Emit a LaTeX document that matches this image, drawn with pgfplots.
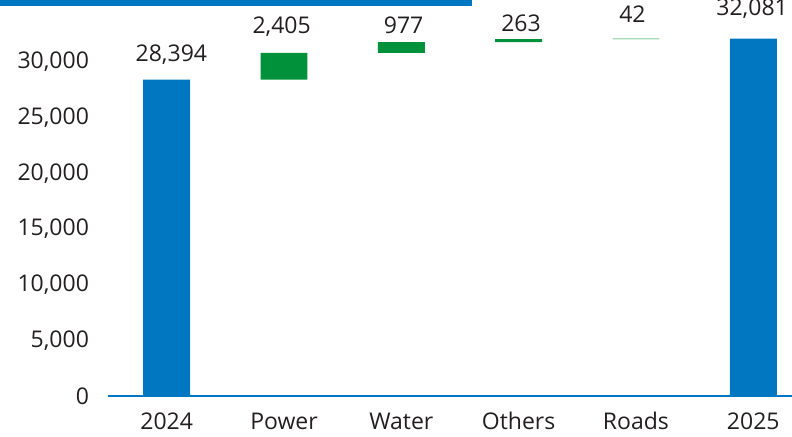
\documentclass[border=0pt]{standalone}
\usepackage{fontspec}
\setmainfont{Open Sans}
\usepackage{pgfplots}
\pgfplotsset{compat=1.18}
\definecolor{wfblue}{HTML}{0077C0}
\definecolor{wfgreen}{HTML}{00913A}
\definecolor{txt}{HTML}{231F20}
\tikzset{vlab/.style={font=\fontsize{11.5}{13}\selectfont, text=txt}}

\begin{document}
\begin{tikzpicture}
\useasboundingbox (0,0) rectangle (396pt,218pt);
\fill[wfblue] (0,215pt) rectangle (236pt,218pt);
\begin{axis}[
  at={(54pt,20pt)}, anchor=south west,
  scale only axis, width=342pt, height=198pt,
  ybar stacked, bar width=0.4,
  xmin=-0.5, xmax=5.33, ymin=0, ymax=35550,
  clip=false,
  xtick={0,...,5},
  xticklabels={2024,Power,Water,Others,Roads,2025},
  ytick={0,5000,...,30000},
  axis x line*=bottom, axis y line*=left,
  x axis line style={draw=wfblue, line width=1pt, -},
  y axis line style={draw=none},
  major tick length=0pt,
  scaled y ticks=false,
  yticklabel={\pgfmathprintnumber[fixed,1000 sep={,},assume math mode=true]{\tick}},
  tick label style={font=\fontsize{11.5}{13}\selectfont, text=txt},
  yticklabel style={xshift=-6pt},
  xticklabel style={yshift=-4.5pt, text height=8.5pt, text depth=2pt},
]
\addplot[draw=none, fill=white, fill opacity=0] coordinates {(0,0) (1,28394) (2,30799) (3,31776) (4,32039) (5,0)};
\addplot[draw=none, fill=wfblue] coordinates {(0,28394) (1,0) (2,0) (3,0) (4,0) (5,32081)};
\addplot[draw=none, fill=wfgreen] coordinates {(0,0) (1,2405) (2,977) (3,263) (4,42) (5,0)};
\node[vlab] at (axis cs:0.04,30610) {28,394};
\node[vlab] at (axis cs:0.98,33170) {2,405};
\node[vlab] at (axis cs:2.02,33300) {977};
\node[vlab] at (axis cs:3.02,33490) {263};
\node[vlab] at (axis cs:3.97,34300) {42};
\node[vlab] at (axis cs:4.99,34740) {32,081};
\end{axis}
\end{tikzpicture}
\end{document}
